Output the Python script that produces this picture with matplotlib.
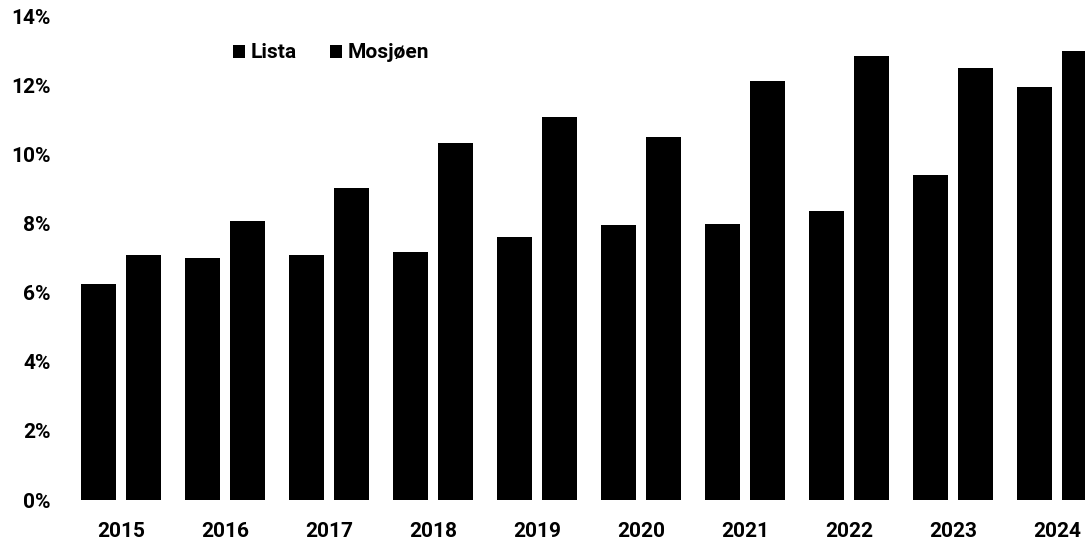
import matplotlib
matplotlib.use("Agg")
import matplotlib.pyplot as plt
import numpy as np

# Data (percent)
years = ['2015', '2016', '2017', '2018', '2019', '2020', '2021', '2022', '2023', '2024']
lista = [6.25, 7.0, 7.09, 7.17, 7.61, 7.95, 7.98, 8.36, 9.4, 11.95]
mosjoen = [7.09, 8.07, 9.03, 10.33, 11.08, 10.5, 12.12, 12.84, 12.5, 12.99]
yticks = [0, 2, 4, 6, 8, 10, 12, 14]

plt.rcParams['font.family'] = ['Roboto', 'DejaVu Sans']
plt.rcParams['font.weight'] = 'bold'

fig = plt.figure(figsize=(10.85, 5.42), dpi=100)
ax = fig.add_axes([69 / 1085, 42 / 542, 1 - 69 / 1085, (500 - 16) / 542])

x = np.arange(len(years))
width = 0.33
off = 0.216
ax.bar(x - off, lista, width=width, color='black', label='Lista')
ax.bar(x + off, mosjoen, width=width, color='black', label='Mosjøen')

ax.set_xlim(-0.5, (1085 - 69) / 104 - 0.5)
ax.set_ylim(0, 14)
ax.set_xticks(x)
ax.set_xticklabels(years)
ax.set_yticks(yticks)
ax.set_yticklabels([f'{v}%' for v in yticks])
ax.tick_params(axis='both', length=0, labelsize=15)
ax.tick_params(axis='x', pad=16)
ax.tick_params(axis='y', pad=13)
for s in ax.spines.values():
    s.set_visible(False)

fig.legend(loc='center left', bbox_to_anchor=(214 / 1085, 1 - 53 / 542),
           ncol=2, frameon=False, fontsize=15, handlelength=0.6,
           handleheight=0.6, handletextpad=0.25, columnspacing=1.6)

fig.savefig('out.png', dpi=100)
